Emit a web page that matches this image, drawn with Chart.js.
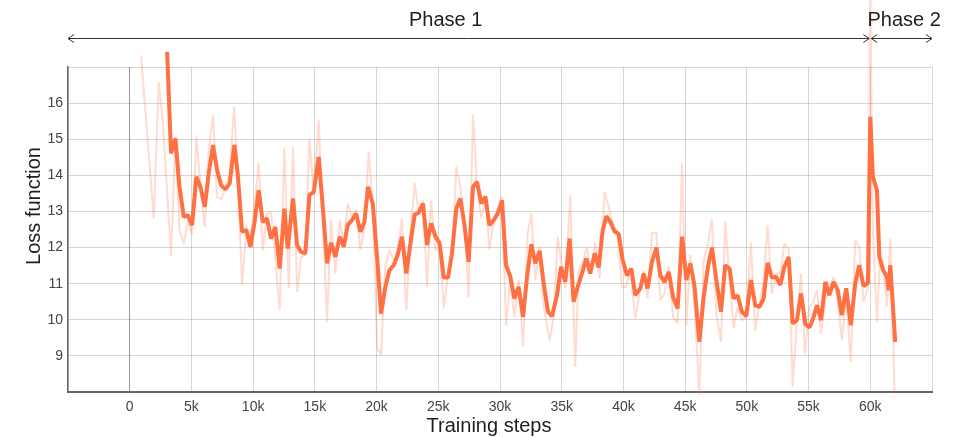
<!DOCTYPE html>
<html>
<head>
<meta charset="utf-8">
<script src="https://cdn.jsdelivr.net/npm/chart.js@4.4.1/dist/chart.umd.min.js"></script>
<style>
	html, body { margin: 0; padding: 0; background: #fff; }
	#wrap { width: 966px; height: 437px; }
</style>
</head>
<body>
<div id="wrap"><canvas id="lossChart" width="966" height="437"></canvas></div>
<script>
//======================================================================================================
// Data
//======================================================================================================
const smoothSteps = [
	3030,3350,3700,4030,4380,4700,5050,5400,5730,6080,
	6400,6750,7080,7400,7750,8100,8480,8750,9100,9450,
	9780,10100,10450,10780,11120,11450,11800,12150,12530,12800,
	13230,13560,13880,14230,14560,14910,15310,15640,15990,16310,
	16660,17020,17340,17660,18010,18340,18690,19010,19310,19690,
	20040,20360,20710,21040,21390,21710,22060,22410,22740,23090,
	23410,23760,24090,24410,24760,25110,25440,25790,26110,26460,
	26790,27140,27460,27810,28140,28490,28820,29140,29490,29810,
	30160,30490,30840,31160,31510,31870,32190,32540,32860,33210,
	33540,33890,34210,34620,34940,35290,35640,35960,36290,36640,
	36990,37310,37670,37990,38320,38620,38940,39290,39610,39940,
	40290,40640,40960,41370,41640,41960,42310,42670,42990,43320,
	43670,44020,44390,44750,45100,45420,45750,46150,46500,46850,
	47170,47520,47900,48250,48600,48930,49250,49600,49950,50330,
	50680,51030,51360,51680,52030,52380,52710,53040,53390,53710,
	54060,54390,54740,55090,55410,55680,56010,56360,56680,57030,
	57360,57690,58050,58420,58780,59100,59460,59810,60000,60210,
	60540,60730,61030,61350,61480,61620,62020
];
const smoothLoss = [
	17.42,14.61,15.02,13.68,12.85,12.90,12.62,13.96,13.68,13.13,
	14.05,14.84,14.15,13.73,13.61,13.78,14.84,14.05,12.44,12.48,
	12.02,12.67,13.59,12.71,12.81,12.25,12.57,11.42,13.08,11.97,
	13.36,12.07,11.88,11.84,13.45,13.54,14.51,13.13,11.56,12.13,
	11.74,12.30,12.02,12.62,12.76,12.94,12.44,12.71,13.68,13.22,
	11.74,10.17,10.91,11.37,11.51,11.79,12.30,11.28,12.11,12.92,
	12.96,13.22,12.07,12.67,12.32,12.11,11.17,11.17,11.84,13.08,
	13.36,12.57,11.60,13.68,13.82,13.22,13.41,12.62,12.76,12.94,
	13.31,11.51,11.19,10.59,10.91,10.08,11.19,12.09,11.56,11.91,
	11.00,10.22,10.10,10.68,11.47,11.05,12.25,10.50,10.91,11.28,
	11.70,11.28,11.84,11.45,12.48,12.87,12.71,12.44,12.39,11.65,
	11.23,11.42,10.68,10.87,11.28,10.87,11.60,12.00,11.23,11.05,
	11.33,10.63,10.31,12.30,11.10,11.56,10.96,9.39,10.63,11.47,
	12.00,11.12,10.22,11.51,11.42,10.59,10.68,10.22,10.10,11.10,
	10.40,10.36,10.59,11.58,11.17,11.19,10.96,11.47,11.74,9.90,
	9.99,10.73,9.88,9.79,10.08,10.40,9.99,11.05,10.68,11.05,
	10.82,10.13,10.87,9.85,11.00,11.51,10.93,11.02,15.62,13.96,
	13.59,11.75,11.38,11.19,10.82,11.51,9.39
];
const rawSteps = [
	920,1950,2350,2680,3350,3700,4030,4380,4700,5050,
	5400,5730,6080,6400,6750,7080,7400,7750,8100,8450,
	8750,9100,9450,9780,10100,10450,10780,11120,11450,11800,
	12150,12530,12880,13230,13560,13880,14230,14560,14910,15310,
	15640,15990,16310,16660,17020,17340,17660,18010,18340,18690,
	19010,19370,19690,20040,20360,20710,21040,21390,21710,22060,
	22410,22740,23090,23410,23760,24090,24410,24760,25110,25440,
	25790,26110,26460,26790,27140,27460,27810,28140,28490,28820,
	29140,29490,29810,30160,30490,30840,31160,31510,31870,32240,
	32540,32860,33210,33540,34020,34350,34670,35020,35290,35690,
	36090,36370,36720,37040,37370,37720,38070,38470,38800,39150,
	39470,39880,40230,40560,40960,41310,41640,41960,42310,42670,
	42990,43320,43670,44020,44390,44750,45100,45420,45750,46150,
	46500,46850,47170,47520,47900,48250,48600,48930,49250,49600,
	49950,50330,50680,51030,51360,51680,52030,52380,52710,53040,
	53390,53710,54060,54390,54700,55050,55340,55680,56010,56360,
	56680,57030,57360,57690,58050,58420,58780,59100,59460,59810,
	60000,60210,60540,60810,61030,61350,61620,61970
];
const rawLoss = [
	17.30,12.81,16.59,15.48,11.76,15.07,12.48,12.11,12.76,12.34,
	15.07,13.78,12.57,14.70,15.67,13.41,13.33,13.64,14.05,15.90,
	14.05,10.96,12.57,12.30,13.13,14.35,11.93,12.94,12.99,11.65,
	10.26,14.75,10.87,14.79,10.77,11.74,11.79,15.02,13.50,15.53,
	12.76,9.94,12.76,11.28,12.76,12.11,13.22,12.85,13.04,11.93,
	12.57,14.65,13.13,9.25,9.02,11.47,11.93,11.65,11.93,12.81,
	10.26,12.39,13.79,12.94,13.31,10.91,13.30,11.93,12.02,10.31,
	11.28,11.74,14.24,13.68,12.57,10.63,15.67,13.68,12.81,13.41,
	11.95,12.71,12.94,13.41,9.85,11.10,10.08,11.10,9.25,12.39,
	12.94,11.10,12.02,10.36,9.43,10.08,12.30,11.47,10.87,13.45,
	8.69,11.37,11.60,12.02,11.28,12.16,11.14,13.54,13.13,12.62,
	12.44,10.91,10.91,11.42,10.03,10.73,11.37,10.59,12.41,12.41,
	10.54,10.73,11.47,10.08,9.90,14.33,9.85,11.79,10.45,7.91,
	11.65,12.11,12.81,10.17,9.39,12.71,11.10,9.76,10.36,9.99,
	10.08,12.13,9.71,10.45,11.10,12.62,10.73,11.28,11.28,12.11,
	11.97,8.14,9.99,11.28,9.06,10.35,10.45,10.82,9.62,10.54,
	10.82,11.19,10.59,9.43,10.63,8.83,12.21,12.02,10.50,10.91,
	19.50,12.48,9.94,11.84,11.56,10.36,12.25,7.95
];

const xTickLabels = [0,5000,10000,15000,20000,25000,30000,35000,40000,45000,50000,55000,60000];
const yTickLabels = [9,10,11,12,13,14,15,16];

// Training phases (in steps) and where their captions sit
const phaseNames  = ["Phase 1", "Phase 2"];
const phaseFrom   = [-5000, 60000];
const phaseTo     = [60000, 65000];
const phaseTextAt = [25600, 62750];

//======================================================================================================
// Helpers
//======================================================================================================
function Pairs(xs, ys)
{
	return xs.map(function(x, i) { return {x: x, y: ys[i]}; });
}

const FONT = '"Liberation Sans", Arial, Helvetica, sans-serif';

// Phase arrows above the plot, plus both axis titles
const decorPlugin = {
	id: 'decor',
	afterDraw: function(chart) {
		const ctx = chart.ctx;
		const xs = chart.scales.x;
		const area = chart.chartArea;
		ctx.save();
		ctx.strokeStyle = '#333';
		ctx.fillStyle = '#1e1e1e';
		ctx.lineWidth = 1;
		ctx.font = '20px ' + FONT;
		ctx.textAlign = 'center';
		ctx.textBaseline = 'alphabetic';
		const y = 38.5;
		for (let i = 0; i < phaseNames.length; i++)
		{
			const x1 = Math.max(xs.getPixelForValue(phaseFrom[i]), area.left) + (i > 0 ? 1 : 0);
			const x2 = xs.getPixelForValue(phaseTo[i]) - (i == 0 ? 1 : 0);
			ctx.beginPath();
			ctx.moveTo(x1, y); ctx.lineTo(x2, y);
			ctx.moveTo(x1 + 6, y - 4); ctx.lineTo(x1, y); ctx.lineTo(x1 + 6, y + 4);
			ctx.moveTo(x2 - 6, y - 4); ctx.lineTo(x2, y); ctx.lineTo(x2 - 6, y + 4);
			ctx.stroke();
			ctx.fillText(phaseNames[i], xs.getPixelForValue(phaseTextAt[i]), 26);
		}
		// axis titles
		ctx.fillText("Training steps", 489, 432);
		ctx.translate(40, 206);
		ctx.rotate(-Math.PI / 2);
		ctx.fillText("Loss function", 0, 0);
		ctx.restore();
	}
};

//======================================================================================================
// Chart
//======================================================================================================
function Init_LossChart()
{
	new Chart(document.getElementById("lossChart"), {
		type: "line",
		data: {
			datasets: [
				{
					label           : "smoothed",
					data            : Pairs(smoothSteps, smoothLoss),
					borderColor     : 'rgb(255,112,67)',
					borderWidth     : 4,
					borderJoinStyle : 'bevel',
					pointRadius     : 0,
					tension         : 0,
					clip            : false
				},
				{
					label           : "raw",
					data            : Pairs(rawSteps, rawLoss),
					borderColor     : 'rgba(255,112,67,0.25)',
					borderWidth     : 2,
					borderJoinStyle : 'bevel',
					pointRadius     : 0,
					tension         : 0,
					clip            : false
				},
			]
		},
		options: {
			responsive          : false,
			animation           : false,
			devicePixelRatio    : 1,
			layout              : { padding: { top: 67, right: 34, left: 0, bottom: 0 } },
			plugins             : { legend: { display: false }, tooltip: { enabled: false } },
			scales: {
				x: {
					type  : 'linear',
					min   : -5000,
					max   : 65000,
					afterFit: function(s) { s.height = 45; },
					ticks : {
						stepSize : 5000,
						padding  : 7,
						maxRotation: 0,
						color    : '#444',
						font     : { family: FONT, size: 14 },
						callback : function(v) {
							if (xTickLabels.indexOf(v) < 0) return "";
							return v == 0 ? "0" : (v / 1000) + "k";
						}
					},
					grid  : {
						drawTicks : false,
						color     : function(c) { return c.tick && c.tick.value == 0 ? '#999' : 'rgba(0,0,0,0.16)'; }
					},
					border: { color: '#666', width: 2 }
				},
				y: {
					min   : 8,
					max   : 17,
					afterFit: function(s) { s.width = 68; },
					ticks : {
						stepSize : 1,
						padding  : 5,
						color    : '#444',
						font     : { family: FONT, size: 14 },
						callback : function(v) { return yTickLabels.indexOf(v) < 0 ? "" : String(v); }
					},
					grid  : { drawTicks: false, color: 'rgba(0,0,0,0.16)' },
					border: { color: '#666', width: 1.5 }
				}
			}
		},
		plugins: [decorPlugin]
	});
}

Init_LossChart();
</script>
</body>
</html>
